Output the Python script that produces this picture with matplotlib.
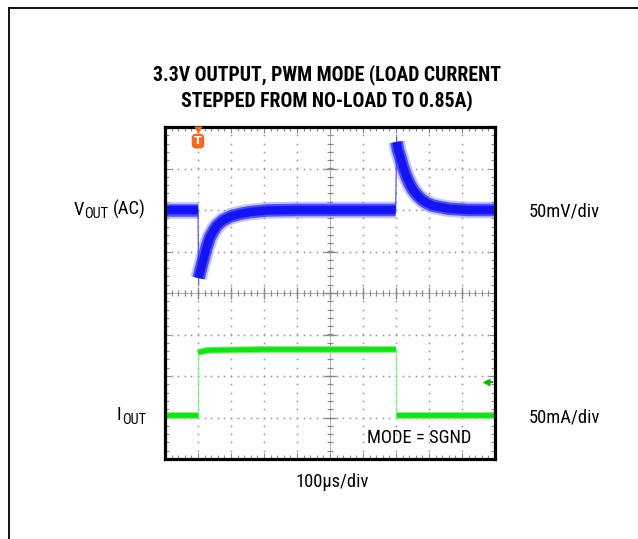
import numpy as np
import matplotlib
matplotlib.use('Agg')
import matplotlib.pyplot as plt
from matplotlib import font_manager
from matplotlib.lines import Line2D

names = {f.name for f in font_manager.fontManager.ttflist}
narrow = [n for n in ['Liberation Sans Narrow', 'Arial Narrow', 'Roboto Condensed',
                      'Open Sans Condensed'] if n in names]
if narrow:
    FONT, FS, FST = narrow[0], 13.3, 14.2
else:
    FONT, FS, FST = 'Liberation Sans', 11.0, 12.2
plt.rcParams['font.family'] = [FONT, 'DejaVu Sans']

# ---- data (scope divisions: x 0..10 div of 100us, y -4..4 div) ----
title_lines = ["3.3V OUTPUT, PWM MODE (LOAD CURRENT", "STEPPED FROM NO-LOAD TO 0.85A)"]

# VOUT (AC) trace, 50mV/div
vout_pre_t = [0.0, 1.0]
vout_pre_v = [2.0, 2.0]
vout_mid_t = [1.02, 1.06, 1.16, 1.26, 1.36, 1.47, 1.57, 1.75, 2.0, 2.3, 2.58, 3.1, 4.0, 5.5, 6.99]
vout_mid_v = [0.36, 0.50, 0.80, 1.10, 1.34, 1.50, 1.62, 1.75, 1.85, 1.91, 1.95, 1.99, 2.0, 2.0, 2.0]
vout_post_t = [7.02, 7.06, 7.12, 7.22, 7.32, 7.42, 7.52, 7.65, 7.78, 7.95, 8.13, 8.6, 9.2, 10.0]
vout_post_v = [3.64, 3.45, 3.30, 3.02, 2.80, 2.62, 2.48, 2.35, 2.25, 2.16, 2.10, 2.03, 2.0, 2.0]

# IOUT trace, 50mA/div
iout_low = -2.95
iout_pre_t = [0.0, 1.0]
iout_high_t = [1.0, 1.3, 3.0, 7.0]
iout_high_v = [-1.43, -1.38, -1.36, -1.36]
iout_post_t = [7.0, 10.0]
trigger_t = 1.0
ref_marker_v = -2.14

BLUE = '#1414f0'
GREEN = '#18e018'
ORANGE = '#f26b1d'
GRAY = '#8a8a8a'

W, H = 638, 539
fig = plt.figure(figsize=(W / 100, H / 100), dpi=100)
fig.patch.set_facecolor('white')

def fx(px):
    return px / W

def fy(py):
    return 1 - py / H

ax = fig.add_axes([fx(165), fy(459), fx(495) - fx(165), fy(127) - fy(459)])
ax.set_xlim(0, 10)
ax.set_ylim(-4, 4)
for s in ax.spines.values():
    s.set_linewidth(2.3)
    s.set_color('black')
    s.set_zorder(10)

ax.set_xticks(np.arange(0, 11, 1))
ax.set_yticks(np.arange(-4, 5, 1))
ax.set_xticks(np.arange(0, 10.01, 0.2), minor=True)
ax.set_yticks(np.arange(-4, 4.01, 0.2), minor=True)
ax.tick_params(which='both', direction='in', top=True, right=True,
               labelbottom=False, labelleft=False, color=GRAY, width=0.8)
ax.tick_params(which='major', length=4)
ax.tick_params(which='minor', length=3)

# dotted graticule
fine = np.arange(0, 10.01, 0.2)
finey = np.arange(-4, 4.01, 0.2)
for i in range(1, 10):
    if i == 5:
        continue
    ax.plot(np.full_like(finey, i), finey, ls='none', marker='o', ms=1.3,
            color='#9a9a9a', mec='none', zorder=1)
for j in range(-3, 4):
    if j == 0:
        continue
    ax.plot(fine, np.full_like(fine, j), ls='none', marker='o', ms=1.3,
            color='#9a9a9a', mec='none', zorder=1)
# center crosshair with ticks
ax.axhline(0, color='#b0b0b0', lw=0.7, zorder=1)
ax.axvline(5, color='#b0b0b0', lw=0.7, zorder=1)
ax.plot(fine, np.zeros_like(fine), ls='none', marker='|', ms=5, mew=0.9, color=GRAY, zorder=1)
ax.plot(np.full_like(finey, 5), finey, ls='none', marker='_', ms=5, mew=0.9, color=GRAY, zorder=1)
major_x = np.arange(0, 11, 1)
major_y = np.arange(-4, 5, 1)
ax.plot(major_x, np.zeros_like(major_x), ls='none', marker='|', ms=8, mew=1.0, color=GRAY, zorder=1)
ax.plot(np.full_like(major_y, 5), major_y, ls='none', marker='_', ms=8, mew=1.0, color=GRAY, zorder=1)

# VOUT trace
for tt, vv in [(vout_pre_t, vout_pre_v), (vout_mid_t, vout_mid_v), (vout_post_t, vout_post_v)]:
    ax.plot(tt, vv, color='#8080f8', lw=12.0, alpha=0.45, solid_capstyle='butt',
            solid_joinstyle='round', zorder=3)
    ax.plot(tt, vv, color='#3030f2', lw=9.0, alpha=0.8, solid_capstyle='butt',
            solid_joinstyle='round', zorder=4)
    ax.plot(tt, vv, color=BLUE, lw=6.0, solid_capstyle='butt', solid_joinstyle='round', zorder=5)
ax.plot([vout_pre_t[-1], vout_mid_t[0]], [vout_pre_v[-1], vout_mid_v[0] - 0.15],
        color='#5a5af5', lw=0.9, zorder=3)
ax.plot([vout_mid_t[-1], vout_post_t[0]], [vout_mid_v[-1], vout_post_v[0] + 0.12],
        color='#5a5af5', lw=0.9, zorder=3)

# IOUT trace
for tt, vv in [(iout_pre_t, [iout_low] * len(iout_pre_t)), (iout_high_t, iout_high_v),
               (iout_post_t, [iout_low] * len(iout_post_t))]:
    ax.plot(tt, vv, color='#7ef07e', lw=5.0, solid_capstyle='butt', zorder=3)
    ax.plot(tt, vv, color=GREEN, lw=3.4, solid_capstyle='butt', zorder=4)
ax.plot([iout_pre_t[-1], iout_high_t[0]], [iout_low, iout_high_v[0]], color='#8cf08c', lw=1.0, zorder=3)
ax.plot([iout_high_t[-1], iout_post_t[0]], [iout_high_v[-1], iout_low], color='#8cf08c', lw=1.0, zorder=3)

# trigger marker
ax.plot([trigger_t], [3.93], marker='v', ms=6, color=ORANGE, mec='none', clip_on=False, zorder=12)
ax.text(trigger_t, 3.66, 'T', ha='center', va='center', color='white', fontsize=8,
        fontweight='bold', family='DejaVu Sans',
        bbox=dict(boxstyle='round,pad=0.22,rounding_size=0.4', fc=ORANGE, ec='none'), zorder=12)

# channel reference marker
ax.plot([9.72, 9.9], [ref_marker_v, ref_marker_v], color='#10b010', lw=1.5, zorder=6)
ax.plot([9.72], [ref_marker_v], marker='<', ms=6, color='#10b010', mec='none', zorder=6)

# texts
fig.text(fx(327), fy(75), title_lines[0], ha='center', va='center', fontsize=FST, fontweight='bold')
fig.text(fx(327), fy(101), title_lines[1], ha='center', va='center', fontsize=FST, fontweight='bold')

SUB = 0.78

def label_with_tail(xright, ypx, main, sub, tail):
    t3 = fig.text(fx(xright), fy(ypx), tail, ha='right', va='center', fontsize=FS)
    t2 = ax.annotate(sub, xy=(0, 0), xycoords=t3, xytext=(-3.5, -2.0), textcoords='offset points',
                     ha='right', va='bottom', fontsize=FS * SUB, annotation_clip=False)
    ax.annotate(main, xy=(0, 0), xycoords=(t2, t3), xytext=(-0.3, 0), textcoords='offset points',
                ha='right', va='bottom', fontsize=FS, annotation_clip=False)

def label_no_tail(xright, ypx, main, sub):
    t2 = fig.text(fx(xright), fy(ypx + 2), sub, ha='right', va='center', fontsize=FS * SUB)
    ax.annotate(main, xy=(0, 0), xycoords=t2, xytext=(-0.3, 2.0), textcoords='offset points',
                ha='right', va='bottom', fontsize=FS, annotation_clip=False)

label_with_tail(146, 209, 'V', 'OUT', '(AC)')
label_no_tail(146, 418, 'I', 'OUT')

fig.text(fx(529), fy(212), '50mV/div', ha='left', va='center', fontsize=FS)
fig.text(fx(529), fy(418), '50mA/div', ha='left', va='center', fontsize=FS)
ax.text(fx(367), fy(438), 'MODE = SGND', transform=fig.transFigure, ha='left', va='center',
        fontsize=FS, zorder=8)
fig.text(fx(332), fy(482), '100\u00b5s/div', ha='center', va='center', fontsize=FS)

# outer frame (partial)
fig.add_artist(Line2D([fx(8.5), fx(8.5)], [0, fy(7.5)], color='black', lw=1.3))
fig.add_artist(Line2D([fx(8.5), 1], [fy(7.5), fy(7.5)], color='black', lw=1.3))

fig.savefig('out.png', dpi=100)
